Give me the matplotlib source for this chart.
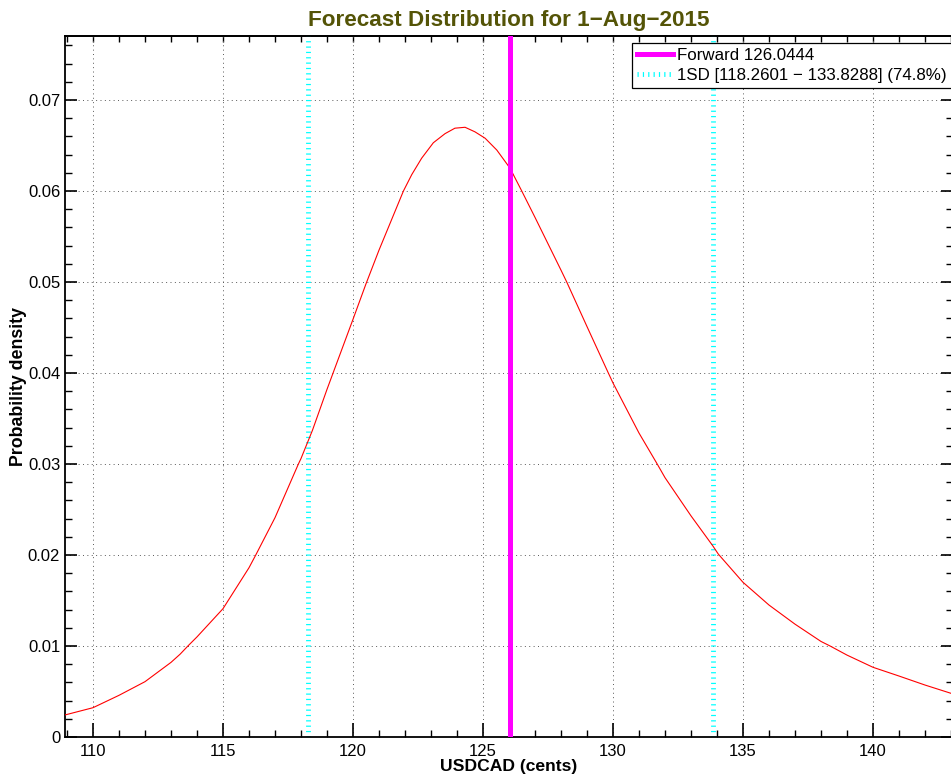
import matplotlib
matplotlib.use("Agg")
import matplotlib.pyplot as plt
from matplotlib.ticker import MultipleLocator, FuncFormatter

plt.rcParams['font.family'] = ['Liberation Sans', 'DejaVu Sans']

# ---- data ----
usdcad = [108.92, 110, 111, 112, 113, 113.35, 113.65, 114, 115, 116, 116.26, 117,
          117.9, 118, 118.44, 119, 120, 120.5, 121, 121.94, 122.26, 122.64, 123.09,
          123.54, 123.92, 124.31, 124.69, 125.08, 125.53, 126.04, 126.49, 127, 128,
          128.22, 129, 129.82, 130, 131, 131.7, 132, 133, 133.84, 134.05, 135, 136,
          137, 138, 138.35, 139, 140, 141, 142, 143]
density = [0.00242, 0.00322, 0.00458, 0.00608, 0.0082, 0.0091, 0.0100, 0.0110,
           0.0141, 0.0186, 0.0200, 0.0241, 0.0300, 0.0306, 0.0337, 0.0382, 0.0459,
           0.0498, 0.0535, 0.0600, 0.0618, 0.0636, 0.0653, 0.0663, 0.0669, 0.0670,
           0.0665, 0.0658, 0.0645, 0.0625, 0.0600, 0.0571, 0.0513, 0.0500, 0.0451,
           0.0400, 0.0389, 0.0334, 0.0300, 0.0285, 0.0243, 0.0210, 0.0201, 0.0170,
           0.0145, 0.0124, 0.0105, 0.0100, 0.0090, 0.00766, 0.0067, 0.00571, 0.0048]
forward = 126.0444
sd_low, sd_high = 118.2601, 133.8288
sd_pct = 74.8
title = "Forecast Distribution for 1\u2212Aug\u22122015"
xlabel = "USDCAD (cents)"
ylabel = "Probability density"
xlim = (108.923, 143.077)
ylim = (0, 0.07703)

fig = plt.figure(figsize=(9.51, 7.80), dpi=100)
ax = fig.add_axes([65/951, 1-737/780, 888/951, 701/780])

ax.plot(usdcad, density, color='red', lw=0.8, zorder=3)
ax.axvline(forward, color='#ff00ff', lw=3.6, zorder=4,
           label=f"Forward {forward:.4f}")
dot = (0, (0.25, 0.85))
ax.axvline(sd_low, color='cyan', lw=3.5, linestyle=dot, zorder=2,
           label=f"1SD [{sd_low:.4f} \u2212 {sd_high:.4f}] ({sd_pct}%)")
ax.axvline(sd_high, color='cyan', lw=3.5, linestyle=dot, zorder=2)

ax.set_xlim(*xlim)
ax.set_ylim(*ylim)
ax.xaxis.set_major_locator(MultipleLocator(5))
ax.xaxis.set_minor_locator(MultipleLocator(1))
ax.yaxis.set_major_locator(MultipleLocator(0.01))
ax.yaxis.set_minor_locator(MultipleLocator(0.002))
ax.yaxis.set_major_formatter(FuncFormatter(lambda v, p: f"{v:g}"))
ax.xaxis.set_major_formatter(FuncFormatter(lambda v, p: f"{v:g}"))

ax.grid(True, which='major', color='0.35', lw=0.7, linestyle=(0, (1, 3.5)))
ax.set_axisbelow(True)

ax.tick_params(axis='x', which='major', direction='in', length=10, width=1.2,
               labelsize=12, pad=5, top=False)
ax.tick_params(axis='x', which='minor', direction='in', length=5, width=1.0, top=False)
ax.tick_params(axis='y', which='major', direction='in', length=8.5, width=1.2,
               labelsize=12, right=True)
ax.tick_params(axis='y', which='minor', direction='in', length=5, width=1.0, right=True)

top = ax.secondary_xaxis('top', functions=(lambda x: x, lambda x: x))
top.xaxis.set_major_locator(MultipleLocator(5))
top.xaxis.set_minor_locator(MultipleLocator(1))
top.tick_params(which='both', direction='in', length=4.5, width=1.0, labeltop=False)

for sp in ax.spines.values():
    sp.set_linewidth(1.3)
top.spines['top'].set_linewidth(1.3)

ax.set_title(title, fontsize=16.2, fontweight='bold', color='#545407', pad=7)
ax.set_xlabel(xlabel, fontsize=12.6, fontweight='bold')
ax.set_ylabel(ylabel, fontsize=12.8, fontweight='bold')
ax.xaxis.label.set_va('center')
ax.yaxis.label.set_va('center')
ax.xaxis.set_label_coords(0.5, (737-766)/701)
ax.yaxis.set_label_coords((19-65)/888, 0.5)

leg = ax.legend(loc='upper left', bbox_to_anchor=(632/951, 1-42.5/780),
                bbox_transform=fig.transFigure, borderaxespad=0, fancybox=False,
                framealpha=1, edgecolor='black', fontsize=12.2, handlelength=2.1,
                handletextpad=0.25, borderpad=0.3, labelspacing=0.3)
leg.get_frame().set_linewidth(0.9)

fig.savefig("out.png", dpi=100)
